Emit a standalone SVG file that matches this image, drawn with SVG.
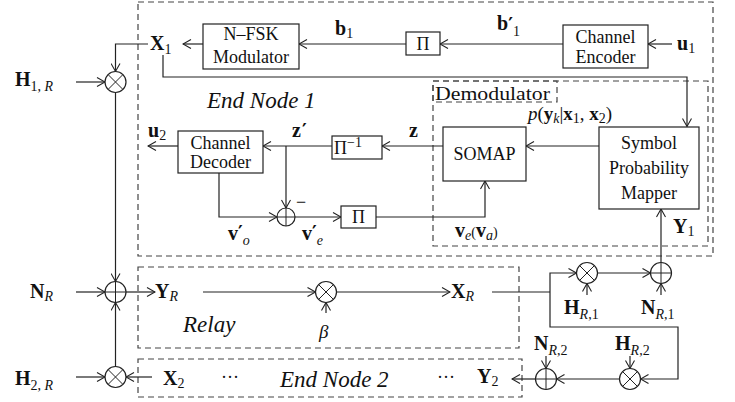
<svg xmlns="http://www.w3.org/2000/svg" width="735" height="402" viewBox="0 0 735 402">
<defs>
<style>
.ln{fill:none;stroke:#222;stroke-width:1.2}
.bx{fill:#fff;stroke:#222;stroke-width:1.2}
.ds{fill:none;stroke:#444;stroke-width:1.2;stroke-dasharray:6,4}
.t{font-family:"Liberation Serif","DejaVu Serif",serif;font-size:18px;fill:#111}
.c{text-anchor:middle}
.it{font-family:"Liberation Serif","DejaVu Serif",serif;font-style:italic;font-size:23px;fill:#111}
.m{font-family:"Liberation Serif","DejaVu Serif",serif;font-weight:bold;font-size:20px;fill:#111}
.s{font-weight:normal;font-size:14px}
.si{font-weight:normal;font-style:italic;font-size:14px}
.pr{font-family:"DejaVu Serif","Liberation Serif",serif;font-weight:bold;font-size:18px}
.mi{font-family:"Liberation Serif","DejaVu Serif",serif;font-style:italic;font-size:19px;fill:#111}
</style>
<marker id="ar" viewBox="-9 -5 10 10" markerWidth="10" markerHeight="10" refX="0" refY="0" orient="auto" markerUnits="userSpaceOnUse">
<path d="M-8,-4.5 L0,0 L-8,4.5" fill="none" stroke="#222" stroke-width="1.1"/>
</marker>
<g id="otimes"><circle r="10.5" fill="#fff" stroke="#222" stroke-width="1.2"/><path d="M-7.4,-7.4 L7.4,7.4 M-7.4,7.4 L7.4,-7.4" stroke="#222" stroke-width="1"/></g>
<g id="oplus"><circle r="10.5" fill="#fff" stroke="#222" stroke-width="1.2"/><path d="M-10.5,0 L10.5,0 M0,-10.5 L0,10.5" stroke="#222" stroke-width="1"/></g>
<g id="oplus-s"><circle r="9" fill="#fff" stroke="#222" stroke-width="1.2"/><path d="M-9,0 L9,0 M0,-9 L0,9" stroke="#222" stroke-width="1"/></g>
</defs>
<rect width="735" height="402" fill="#fff"/>

<g id="regions">
<rect class="ds" x="138" y="2" width="575" height="254"/>
<rect class="ds" x="433" y="81" width="275" height="165"/>
<rect class="ds" x="433" y="81" width="124" height="21"/>
<rect class="ds" x="138" y="267" width="381" height="81"/>
<rect class="ds" x="138" y="359" width="384" height="38"/>
<text class="t" x="435" y="100" font-size="20" textLength="115" lengthAdjust="spacingAndGlyphs">Demodulator</text>
<text class="it" x="207" y="108">End Node 1</text>
<text class="it" x="183" y="332">Relay</text>
<text class="it" x="280" y="387">End Node 2</text>
<text class="t" x="221" y="383" font-size="12">···</text>
<text class="t" x="437" y="383" font-size="12">···</text>
</g>

<g id="connectors">
<path class="ln" marker-end="url(#ar)" d="M672,44 L648,44"/>
<path class="ln" marker-end="url(#ar)" d="M563,44 L440,44"/>
<path class="ln" marker-end="url(#ar)" d="M406,44 L299,44"/>
<path class="ln" marker-end="url(#ar)" d="M203,44 L183,44"/>
<path class="ln" marker-end="url(#ar)" d="M148,44 L115.5,44 L115.5,71.5"/>
<path class="ln" marker-end="url(#ar)" d="M163,55 L163,77 L687,77 L687,126.5"/>
<path class="ln" marker-end="url(#ar)" d="M76,82 L105,82"/>
<path class="ln" marker-end="url(#ar)" d="M115.5,92.5 L115.5,281.5"/>
<path class="ln" marker-end="url(#ar)" d="M76,292 L105,292"/>
<path class="ln" marker-end="url(#ar)" d="M126,292 L155,292"/>
<path class="ln" marker-end="url(#ar)" d="M203,292 L315.5,292"/>
<path class="ln" marker-end="url(#ar)" d="M326,313 L326,302.5"/>
<path class="ln" marker-end="url(#ar)" d="M336.5,292 L450,292"/>
<path class="ln" d="M492,292 L550,292"/>
<path class="ln" marker-end="url(#ar)" d="M550,292 L550,273 L576.5,273"/>
<path class="ln" marker-end="url(#ar)" d="M550,292 L550,327 L678,327 L678,379 L640.5,379"/>
<path class="ln" marker-end="url(#ar)" d="M597.5,273 L650.5,273"/>
<path class="ln" marker-end="url(#ar)" d="M587,295 L587,283.5"/>
<path class="ln" marker-end="url(#ar)" d="M661,295 L661,283.5"/>
<path class="ln" marker-end="url(#ar)" d="M661,262.5 L661,209"/>
<path class="ln" marker-end="url(#ar)" d="M630,356 L630,368.5"/>
<path class="ln" marker-end="url(#ar)" d="M619.5,379 L556.5,379"/>
<path class="ln" marker-end="url(#ar)" d="M546,356 L546,368.5"/>
<path class="ln" marker-end="url(#ar)" d="M535.5,379 L512,379"/>
<path class="ln" marker-end="url(#ar)" d="M152,377 L126,377"/>
<path class="ln" marker-end="url(#ar)" d="M76,377 L105,377"/>
<path class="ln" marker-end="url(#ar)" d="M115.5,366.5 L115.5,302.5"/>
<path class="ln" marker-end="url(#ar)" d="M599,146 L526,146"/>
<path class="ln" marker-end="url(#ar)" d="M443,146 L382,146"/>
<path class="ln" marker-end="url(#ar)" d="M332,146 L263,146"/>
<path class="ln" marker-end="url(#ar)" d="M286,146 L286,208"/>
<path class="ln" marker-end="url(#ar)" d="M178,146 L148,146"/>
<path class="ln" marker-end="url(#ar)" d="M219,173 L219,217 L277,217"/>
<path class="ln" marker-end="url(#ar)" d="M295,217 L341,217"/>
<path class="ln" marker-end="url(#ar)" d="M376,217 L485,217 L485,181"/>
</g>

<g id="modulator"><rect class="bx" x="203" y="24" width="96" height="45"/>
<text class="t c" x="251" y="40">N–FSK</text><text class="t c" x="251" y="63">Modulator</text></g>
<g id="interleaver1"><rect class="bx" x="406" y="32" width="34" height="23"/>
<text class="t c" x="423" y="50">Π</text></g>
<g id="encoder"><rect class="bx" x="563" y="25" width="85" height="43"/>
<text class="t c" x="605.5" y="43" font-size="16.5">Channel</text><text class="t c" x="605.5" y="63" font-size="16.5">Encoder</text></g>
<g id="spm"><rect class="bx" x="599" y="127" width="100" height="82"/>
<text class="t c" x="649" y="149">Symbol</text><text class="t c" x="649" y="174">Probability</text><text class="t c" x="649" y="199">Mapper</text></g>
<g id="somap"><rect class="bx" x="443" y="127" width="83" height="54"/>
<text class="t c" x="484.5" y="160">SOMAP</text></g>
<g id="deinterleaver"><rect class="bx" x="332" y="136" width="50" height="23"/>
<text class="t" x="334" y="154">Π<tspan font-size="14" dy="-7">−1</tspan></text></g>
<g id="decoder"><rect class="bx" x="178" y="131" width="85" height="42"/>
<text class="t c" x="220.5" y="148.5" font-size="16.5">Channel</text><text class="t c" x="220.5" y="168" font-size="16.5">Decoder</text></g>
<g id="interleaver2"><rect class="bx" x="341" y="206" width="35" height="22"/>
<text class="t c" x="358.5" y="223">Π</text></g>
<g id="sum-ve"><use href="#oplus-s" x="286" y="217"/>
<text class="t" x="296" y="208">−</text></g>
<g id="mul-1R"><use href="#otimes" x="115.5" y="82"/></g>
<g id="sum-R"><use href="#oplus" x="115.5" y="292"/></g>
<g id="mul-2R"><use href="#otimes" x="115.5" y="377"/></g>
<g id="mul-beta"><use href="#otimes" x="326" y="292"/></g>
<g id="mul-R1"><use href="#otimes" x="587" y="273"/></g>
<g id="sum-R1"><use href="#oplus" x="661" y="273"/></g>
<g id="mul-R2"><use href="#otimes" x="630" y="379"/></g>
<g id="sum-R2"><use href="#oplus" x="546" y="379"/></g>

<g id="labels">
<text class="m" x="150" y="50">X<tspan class="s" dy="4">1</tspan></text>
<text class="m" x="335" y="35">b<tspan class="s" dy="3">1</tspan></text>
<text class="m" x="497" y="30">b<tspan class="pr" dy="1">′</tspan><tspan class="s" dx="0" dy="5">1</tspan></text>
<text class="m" x="677" y="50">u<tspan class="s" dy="3">1</tspan></text>
<text class="m" x="15" y="86">H<tspan class="s" dy="5">1, </tspan><tspan class="si">R</tspan></text>
<text class="m" x="148" y="137">u<tspan class="s" dy="3">2</tspan></text>
<text class="m" x="292" y="137">z<tspan class="pr" dx="1">′</tspan></text>
<text class="m" x="409" y="137">z</text>
<text class="m" x="228" y="240">v<tspan class="pr" dx="0" dy="-1">′</tspan><tspan class="si" dx="0" dy="6">o</tspan></text>
<text class="m" x="302" y="240">v<tspan class="pr" dx="0" dy="-1">′</tspan><tspan class="si" dx="0" dy="6">e</tspan></text>
<text class="m" x="455" y="237">v<tspan class="si" dy="3">e</tspan><tspan class="s" font-size="19" dy="-3">(</tspan>v<tspan class="si" dy="3">a</tspan><tspan class="s" font-size="19" dy="-3">)</tspan></text>
<text class="mi" x="528" y="120">p<tspan font-style="normal">(</tspan><tspan font-weight="bold" font-style="normal">y</tspan><tspan font-size="14" dy="3">k</tspan><tspan font-style="normal" dy="-3">|</tspan><tspan font-weight="bold" font-style="normal">x</tspan><tspan font-style="normal" font-size="14" dy="3">1</tspan><tspan font-style="normal" dy="-3">, </tspan><tspan font-weight="bold" font-style="normal">x</tspan><tspan font-style="normal" font-size="14" dy="3">2</tspan><tspan font-style="normal" dy="-3">)</tspan></text>
<text class="m" x="673" y="233">Y<tspan class="s" dy="3">1</tspan></text>
<text class="m" x="30" y="298">N<tspan class="si" dy="3">R</tspan></text>
<text class="m" x="155" y="298">Y<tspan class="si" dy="3">R</tspan></text>
<text class="mi" x="319" y="338">β</text>
<text class="m" x="451" y="298">X<tspan class="si" dy="3">R</tspan></text>
<text class="m" x="564" y="314">H<tspan class="si" dy="5">R</tspan><tspan class="s">,1</tspan></text>
<text class="m" x="641" y="314">N<tspan class="si" dy="5">R</tspan><tspan class="s">,1</tspan></text>
<text class="m" x="534" y="350">N<tspan class="si" dy="5">R</tspan><tspan class="s">,2</tspan></text>
<text class="m" x="615" y="350">H<tspan class="si" dy="5">R</tspan><tspan class="s">,2</tspan></text>
<text class="m" x="477" y="383">Y<tspan class="s" dy="3">2</tspan></text>
<text class="m" x="163" y="385">X<tspan class="s" dy="3">2</tspan></text>
<text class="m" x="15" y="385">H<tspan class="s" dy="5">2, </tspan><tspan class="si">R</tspan></text>
</g>
</svg>
